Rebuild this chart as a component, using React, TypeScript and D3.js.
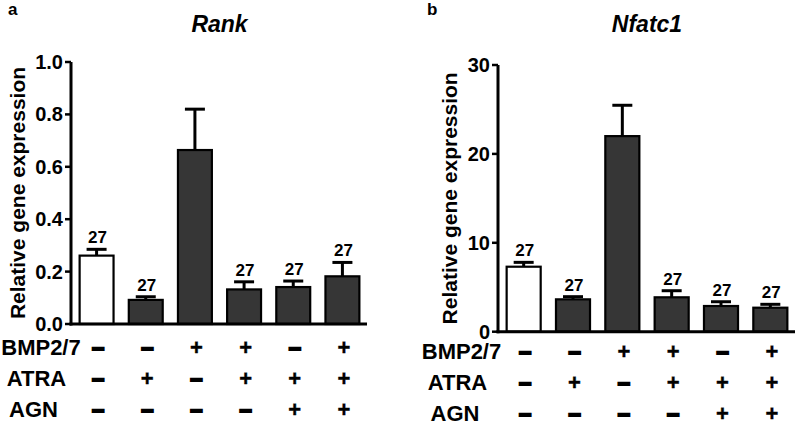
import React from "react";
import * as d3 from "d3";

const groups = ["g1", "g2", "g3", "g4", "g5", "g6"];
const bmpRow = ["-", "-", "+", "+", "-", "+"];
const atraRow = ["-", "+", "-", "+", "+", "+"];
const agnRow = ["-", "-", "-", "-", "+", "+"];
const rowNames = ["BMP2/7", "ATRA", "AGN"];
const nLabels = ["27", "27", "", "27", "27", "27"];

const rankMean = [0.261, 0.092, 0.664, 0.132, 0.141, 0.182];
const rankSem = [0.024, 0.012, 0.156, 0.029, 0.023, 0.053];
const rankTicks = [0, 0.2, 0.4, 0.6, 0.8, 1.0];

const nfatMean = [7.31, 3.64, 22.0, 3.87, 2.89, 2.7];
const nfatSem = [0.49, 0.3, 3.47, 0.74, 0.48, 0.38];
const nfatTicks = [0, 10, 20, 30];

const FONT = "'Liberation Sans', Arial, Helvetica, sans-serif";
const DARK = "#363636";

type PanelProps = {
  letter: string;
  title: string;
  means: number[];
  sems: number[];
  ticks: number[];
  yMax: number;
  fmt: (v: number) => string;
  x0: number;
  x1: number;
  yTop: number;
  yBottom: number;
  letterX: number;
  ylabelX: number;
  rowLabelX: number[];
  rowStart: number;
};

function Panel(p: PanelProps) {
  const x = d3.scaleBand<string>().domain(groups).range([p.x0, p.x1]).paddingInner(0.31).paddingOuter(0.155);
  const y = d3.scaleLinear().domain([0, p.yMax]).range([p.yBottom, p.yTop]);
  const axisX = p.x0 - 1;
  const rows = [bmpRow, atraRow, agnRow];
  const capW = 20;
  return (
    <g fontFamily={FONT} fontWeight="bold">
      <text x={p.letterX} y={15} fontSize={17}>{p.letter}</text>
      <text x={(p.x0 + p.x1) / 2} y={32} fontSize={23} fontStyle="italic" textAnchor="middle">{p.title}</text>
      <text
        transform={`translate(${p.ylabelX},${(p.yTop + p.yBottom) / 2}) rotate(-90)`}
        fontSize={21}
        textAnchor="middle"
      >
        Relative gene expression
      </text>
      {groups.map((g, i) => {
        const bx = x(g)!;
        const bw = x.bandwidth();
        const cx = bx + bw / 2;
        const top = y(p.means[i]);
        const errTop = y(p.means[i] + p.sems[i]);
        return (
          <g key={g}>
            <line x1={cx} x2={cx} y1={top} y2={errTop} stroke="#000" strokeWidth={3} />
            <line x1={cx - capW / 2} x2={cx + capW / 2} y1={errTop} y2={errTop} stroke="#000" strokeWidth={3} />
            <rect x={bx} y={top} width={bw} height={p.yBottom - top} fill={i === 0 ? "#fff" : DARK} stroke="#000" strokeWidth={2.2} />
            {nLabels[i] && (
              <text x={cx + 1} y={errTop - 6} fontSize={17} textAnchor="middle">{nLabels[i]}</text>
            )}
          </g>
        );
      })}
      <line x1={axisX} x2={axisX} y1={p.yTop} y2={p.yBottom + 1.5} stroke="#000" strokeWidth={3} />
      {p.ticks.map((t) => (
        <g key={t}>
          <line x1={axisX - 6} x2={axisX} y1={y(t)} y2={y(t)} stroke="#000" strokeWidth={2.5} />
          <text x={axisX - 8} y={y(t) + 7} fontSize={20} textAnchor="end">{p.fmt(t)}</text>
        </g>
      ))}
      <line x1={axisX - 1.5} x2={p.x1} y1={p.yBottom} y2={p.yBottom} stroke="#000" strokeWidth={3} />
      {rows.map((row, r) => {
        const base = p.rowStart + r * 31;
        return (
          <g key={r}>
            <text x={p.rowLabelX[r]} y={base} fontSize={22} textAnchor="middle">{rowNames[r]}</text>
            {row.map((s, i) => {
              const cx = x(groups[i])! + x.bandwidth() / 2 + 1.5;
              return (
                <text
                  key={i}
                  x={cx}
                  y={base}
                  fontSize={22}
                  textAnchor="middle"
                  stroke="#000"
                  strokeWidth={s === "-" ? 2 : 0.4}
                >
                  {s === "-" ? "–" : "+"}
                </text>
              );
            })}
          </g>
        );
      })}
    </g>
  );
}

export default function App() {
  return (
    <div style={{ position: "absolute", left: 0, top: 0 }}>
      <svg width={797} height={426} style={{ display: "block", background: "#fff" }}>
        <Panel
          letter="a"
          title="Rank"
          means={rankMean}
          sems={rankSem}
          ticks={rankTicks}
          yMax={1.0}
          fmt={(v) => v.toFixed(1)}
          x0={72}
          x1={367}
          yTop={62}
          yBottom={324}
          letterX={8}
          ylabelX={25}
          rowLabelX={[41, 36.5, 33.5]}
          rowStart={355}
        />
        <Panel
          letter="b"
          title="Nfatc1"
          means={nfatMean}
          sems={nfatSem}
          ticks={nfatTicks}
          yMax={30}
          fmt={(v) => String(v)}
          x0={499}
          x1={795}
          yTop={65}
          yBottom={331.7}
          letterX={427}
          ylabelX={457}
          rowLabelX={[461.5, 457.5, 455]}
          rowStart={359}
        />
      </svg>
    </div>
  );
}
